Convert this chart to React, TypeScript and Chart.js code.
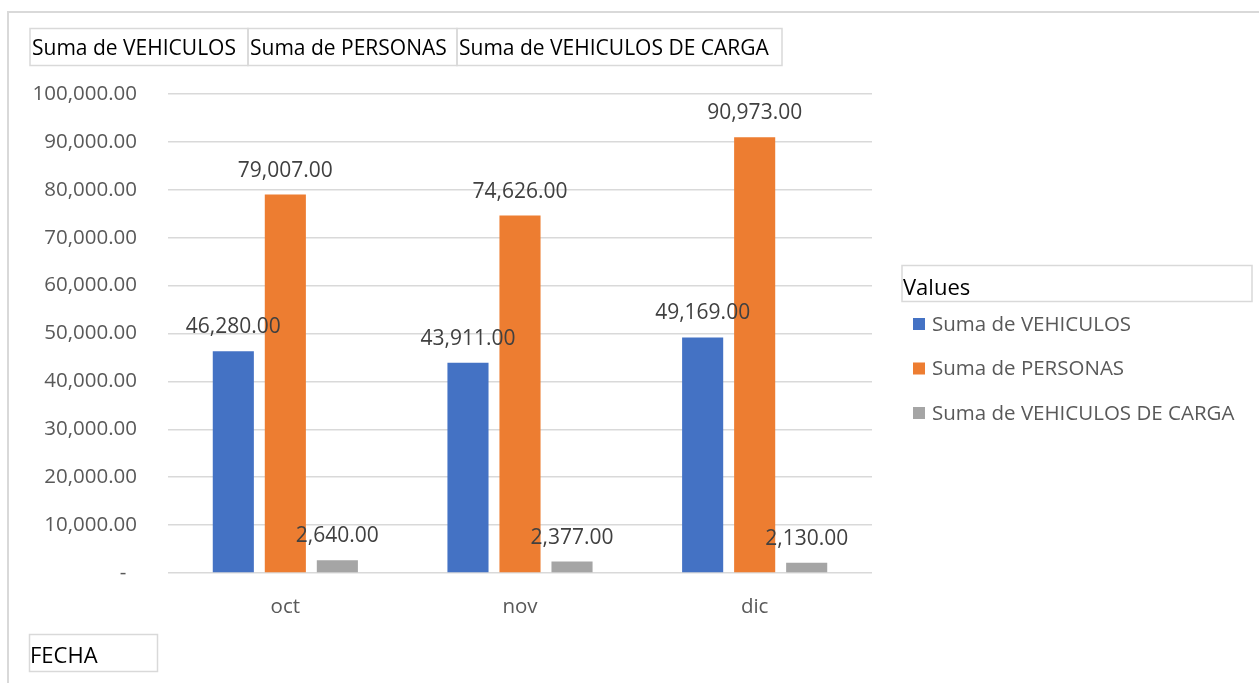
import React, { useEffect, useRef } from "react";
import { Chart, registerables } from "chart.js";

Chart.register(...registerables);

const categories = ["oct", "nov", "dic"];
const seriesNames = ["Suma de VEHICULOS", "Suma de PERSONAS", "Suma de VEHICULOS DE CARGA"];
const vehiculos = [46280, 43911, 49169];
const personas = [79007, 74626, 90973];
const carga = [2640, 2377, 2130];
const seriesColors = ["#4472C4", "#ED7D31", "#A5A5A5"];
const yMin = 0;
const yMax = 100000;
const yStep = 10000;
const legendTitle = "Values";
const axisFieldLabel = "FECHA";

const FONT = "'Open Sans', sans-serif";

const fmt = (v: number) =>
  v.toLocaleString("en-US", { minimumFractionDigits: 2, maximumFractionDigits: 2 });

const decorPlugin = {
  id: "decor",
  beforeDraw(chart: any) {
    const ctx = chart.ctx;
    ctx.save();
    ctx.fillStyle = "#ffffff";
    ctx.fillRect(0, 0, chart.width, chart.height);
    ctx.strokeStyle = "#d9d9d9";
    ctx.lineWidth = 2;
    ctx.beginPath();
    ctx.moveTo(8, chart.height);
    ctx.lineTo(8, 12);
    ctx.lineTo(chart.width, 12);
    ctx.stroke();
    ctx.restore();
  },
  afterDatasetsDraw(chart: any) {
    const ctx = chart.ctx;
    ctx.save();
    ctx.font = `21px ${FONT}`;
    ctx.fillStyle = "#404040";
    ctx.textAlign = "center";
    ctx.textBaseline = "middle";
    chart.data.datasets.forEach((ds: any, di: number) => {
      const meta = chart.getDatasetMeta(di);
      meta.data.forEach((bar: any, i: number) => {
        ctx.fillText(fmt(ds.data[i]), bar.x, bar.y - 24);
      });
    });
    ctx.restore();
  },
  afterDraw(chart: any) {
    const ctx = chart.ctx;
    ctx.save();
    const box = (x: number, y: number, w: number, h: number) => {
      ctx.strokeStyle = "#d9d9d9";
      ctx.lineWidth = 1.5;
      ctx.strokeRect(x, y, w, h);
    };
    // field buttons on top
    const btnX = [30, 248, 457, 782];
    ctx.font = `21px ${FONT}`;
    ctx.textAlign = "left";
    ctx.textBaseline = "alphabetic";
    chart.data.datasets.forEach((ds: any, i: number) => {
      box(btnX[i], 28.5, btnX[i + 1] - btnX[i], 37);
      ctx.fillStyle = "#000000";
      ctx.fillText(ds.label, btnX[i] + 2, 55);
    });
    // legend
    box(902, 265.5, 350, 36);
    ctx.fillStyle = "#000000";
    ctx.font = `22px ${FONT}`;
    ctx.fillText(legendTitle, 903, 295);
    ctx.font = `20.5px ${FONT}`;
    ctx.textBaseline = "middle";
    chart.data.datasets.forEach((ds: any, i: number) => {
      const cy = 324 + i * 44.5;
      ctx.fillStyle = ds.backgroundColor;
      ctx.fillRect(913, cy - 6, 12, 12);
      ctx.fillStyle = "#595959";
      ctx.fillText(ds.label, 932, cy + 1);
    });
    // axis field button
    box(29.5, 634.5, 128, 37);
    ctx.fillStyle = "#000000";
    ctx.font = `22px ${FONT}`;
    ctx.textBaseline = "alphabetic";
    ctx.fillText(axisFieldLabel, 30, 663);
    ctx.restore();
  },
};

export default function App() {
  const ref = useRef<HTMLCanvasElement>(null);
  useEffect(() => {
    if (!ref.current) return;
    const chart = new Chart(ref.current, {
      type: "bar",
      data: {
        labels: categories,
        datasets: [
          { label: seriesNames[0], data: vehiculos, backgroundColor: seriesColors[0] },
          { label: seriesNames[1], data: personas, backgroundColor: seriesColors[1] },
          { label: seriesNames[2], data: carga, backgroundColor: seriesColors[2] },
        ].map((d) => ({ ...d, categoryPercentage: 0.665, barPercentage: 0.79 })),
      },
      options: {
        animation: false,
        responsive: false,
        devicePixelRatio: 1,
        layout: { padding: { top: 94, right: 387, bottom: 50, left: 0 } },
        plugins: { legend: { display: false }, tooltip: { enabled: false } },
        scales: {
          x: {
            grid: { display: false },
            border: { display: false },
            ticks: { color: "#595959", font: { family: FONT, size: 20.5 }, padding: 14 },
            afterFit: (s: any) => {
              s.height = 60;
            },
          },
          y: {
            min: yMin,
            max: yMax,
            grid: { color: "#d9d9d9", lineWidth: 1.5, drawTicks: false },
            border: { display: false },
            ticks: {
              stepSize: yStep,
              color: "#595959",
              font: { family: FONT, size: 20.5 },
              padding: 31,
              callback: (v: any) => (Number(v) === 0 ? "-  " : fmt(Number(v))),
            },
            afterFit: (s: any) => {
              s.width = 168;
            },
          },
        },
      },
      plugins: [decorPlugin],
    });
    return () => chart.destroy();
  }, []);
  return (
    <div style={{ position: "fixed", left: 0, top: 0, width: 1259, height: 683, background: "#fff" }}>
      <canvas ref={ref} width={1259} height={683} style={{ display: "block" }} />
    </div>
  );
}
